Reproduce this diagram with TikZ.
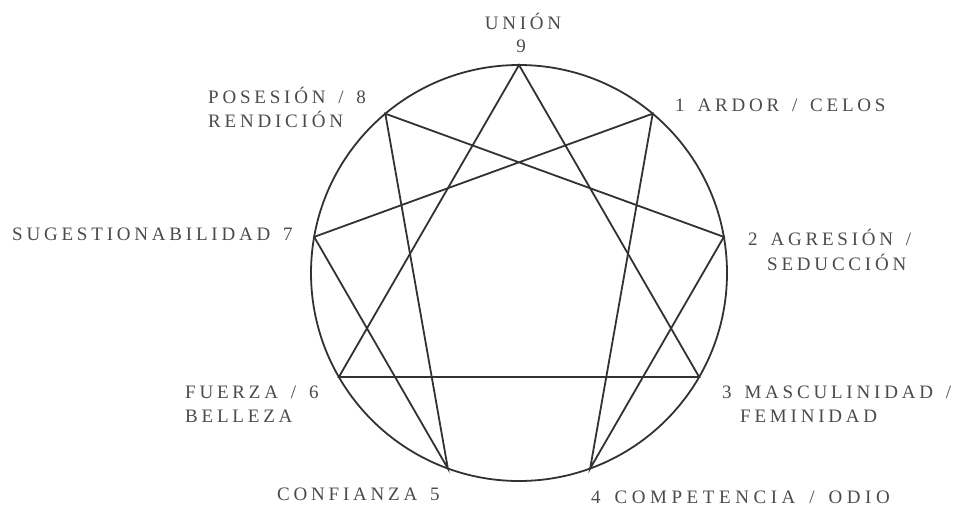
\documentclass[tikz,border=0pt]{standalone}
\usepackage{fontspec}
\setmainfont{Liberation Serif}[LetterSpace=20,WordSpace=1.5]
\definecolor{txt}{RGB}{75,75,75}
\definecolor{ink}{RGB}{50,50,50}
\tikzset{
  lab/.style={inner sep=0pt, anchor=base west, text=txt, font=\fontsize{19}{22}\selectfont},
  labc/.style={lab, anchor=base},
  edge/.style={draw=ink, line width=1.8pt, line join=miter},
}
\begin{document}
\begin{tikzpicture}[x=1pt,y=-1pt]
\useasboundingbox (0,0) rectangle (957,506);
\fill[white] (0,0) rectangle (957,506);
\coordinate (c) at (519,273);
\foreach \k in {1,...,9}{
  \coordinate (p\k) at ({519+208*sin(40*\k)},{273-208*cos(40*\k)});
}
\draw[edge] (c) circle[radius=208];
\draw[edge] (p9) -- (p3) -- (p6) -- cycle;
\draw[edge] (p1) -- (p4) -- (p2) -- (p8) -- (p5) -- (p7) -- cycle;
% labels
\node[labc] (l9a) at (523,29) {UNIÓN};
\node[labc] (l9b) at (521,52) {9};
\node[lab] (l8a) at (208,103) {POSESIÓN / 8};
\node[lab] (l8b) at (208,127) {RENDICIÓN};
\node[lab] (l1) at (675,111) {1 ARDOR / CELOS};
\node[lab] (l7) at (12,240) {SUGESTIONABILIDAD 7};
\node[lab] (l2a) at (748,245) {2 AGRESIÓN /};
\node[lab] (l2b) at (767,270) {SEDUCCIÓN};
\node[lab] (l6a) at (185,398) {FUERZA / 6};
\node[lab] (l6b) at (185,422) {BELLEZA};
\node[lab] (l5) at (277,500) {CONFIANZA 5};
\node[lab] (l3a) at (722,398) {3 MASCULINIDAD /};
\node[lab] (l3b) at (740,422) {FEMINIDAD};
\node[lab] (l4) at (591,503) {\addfontfeatures{LetterSpace=24}4 COMPETENCIA / ODIO};
\end{tikzpicture}
\end{document}
